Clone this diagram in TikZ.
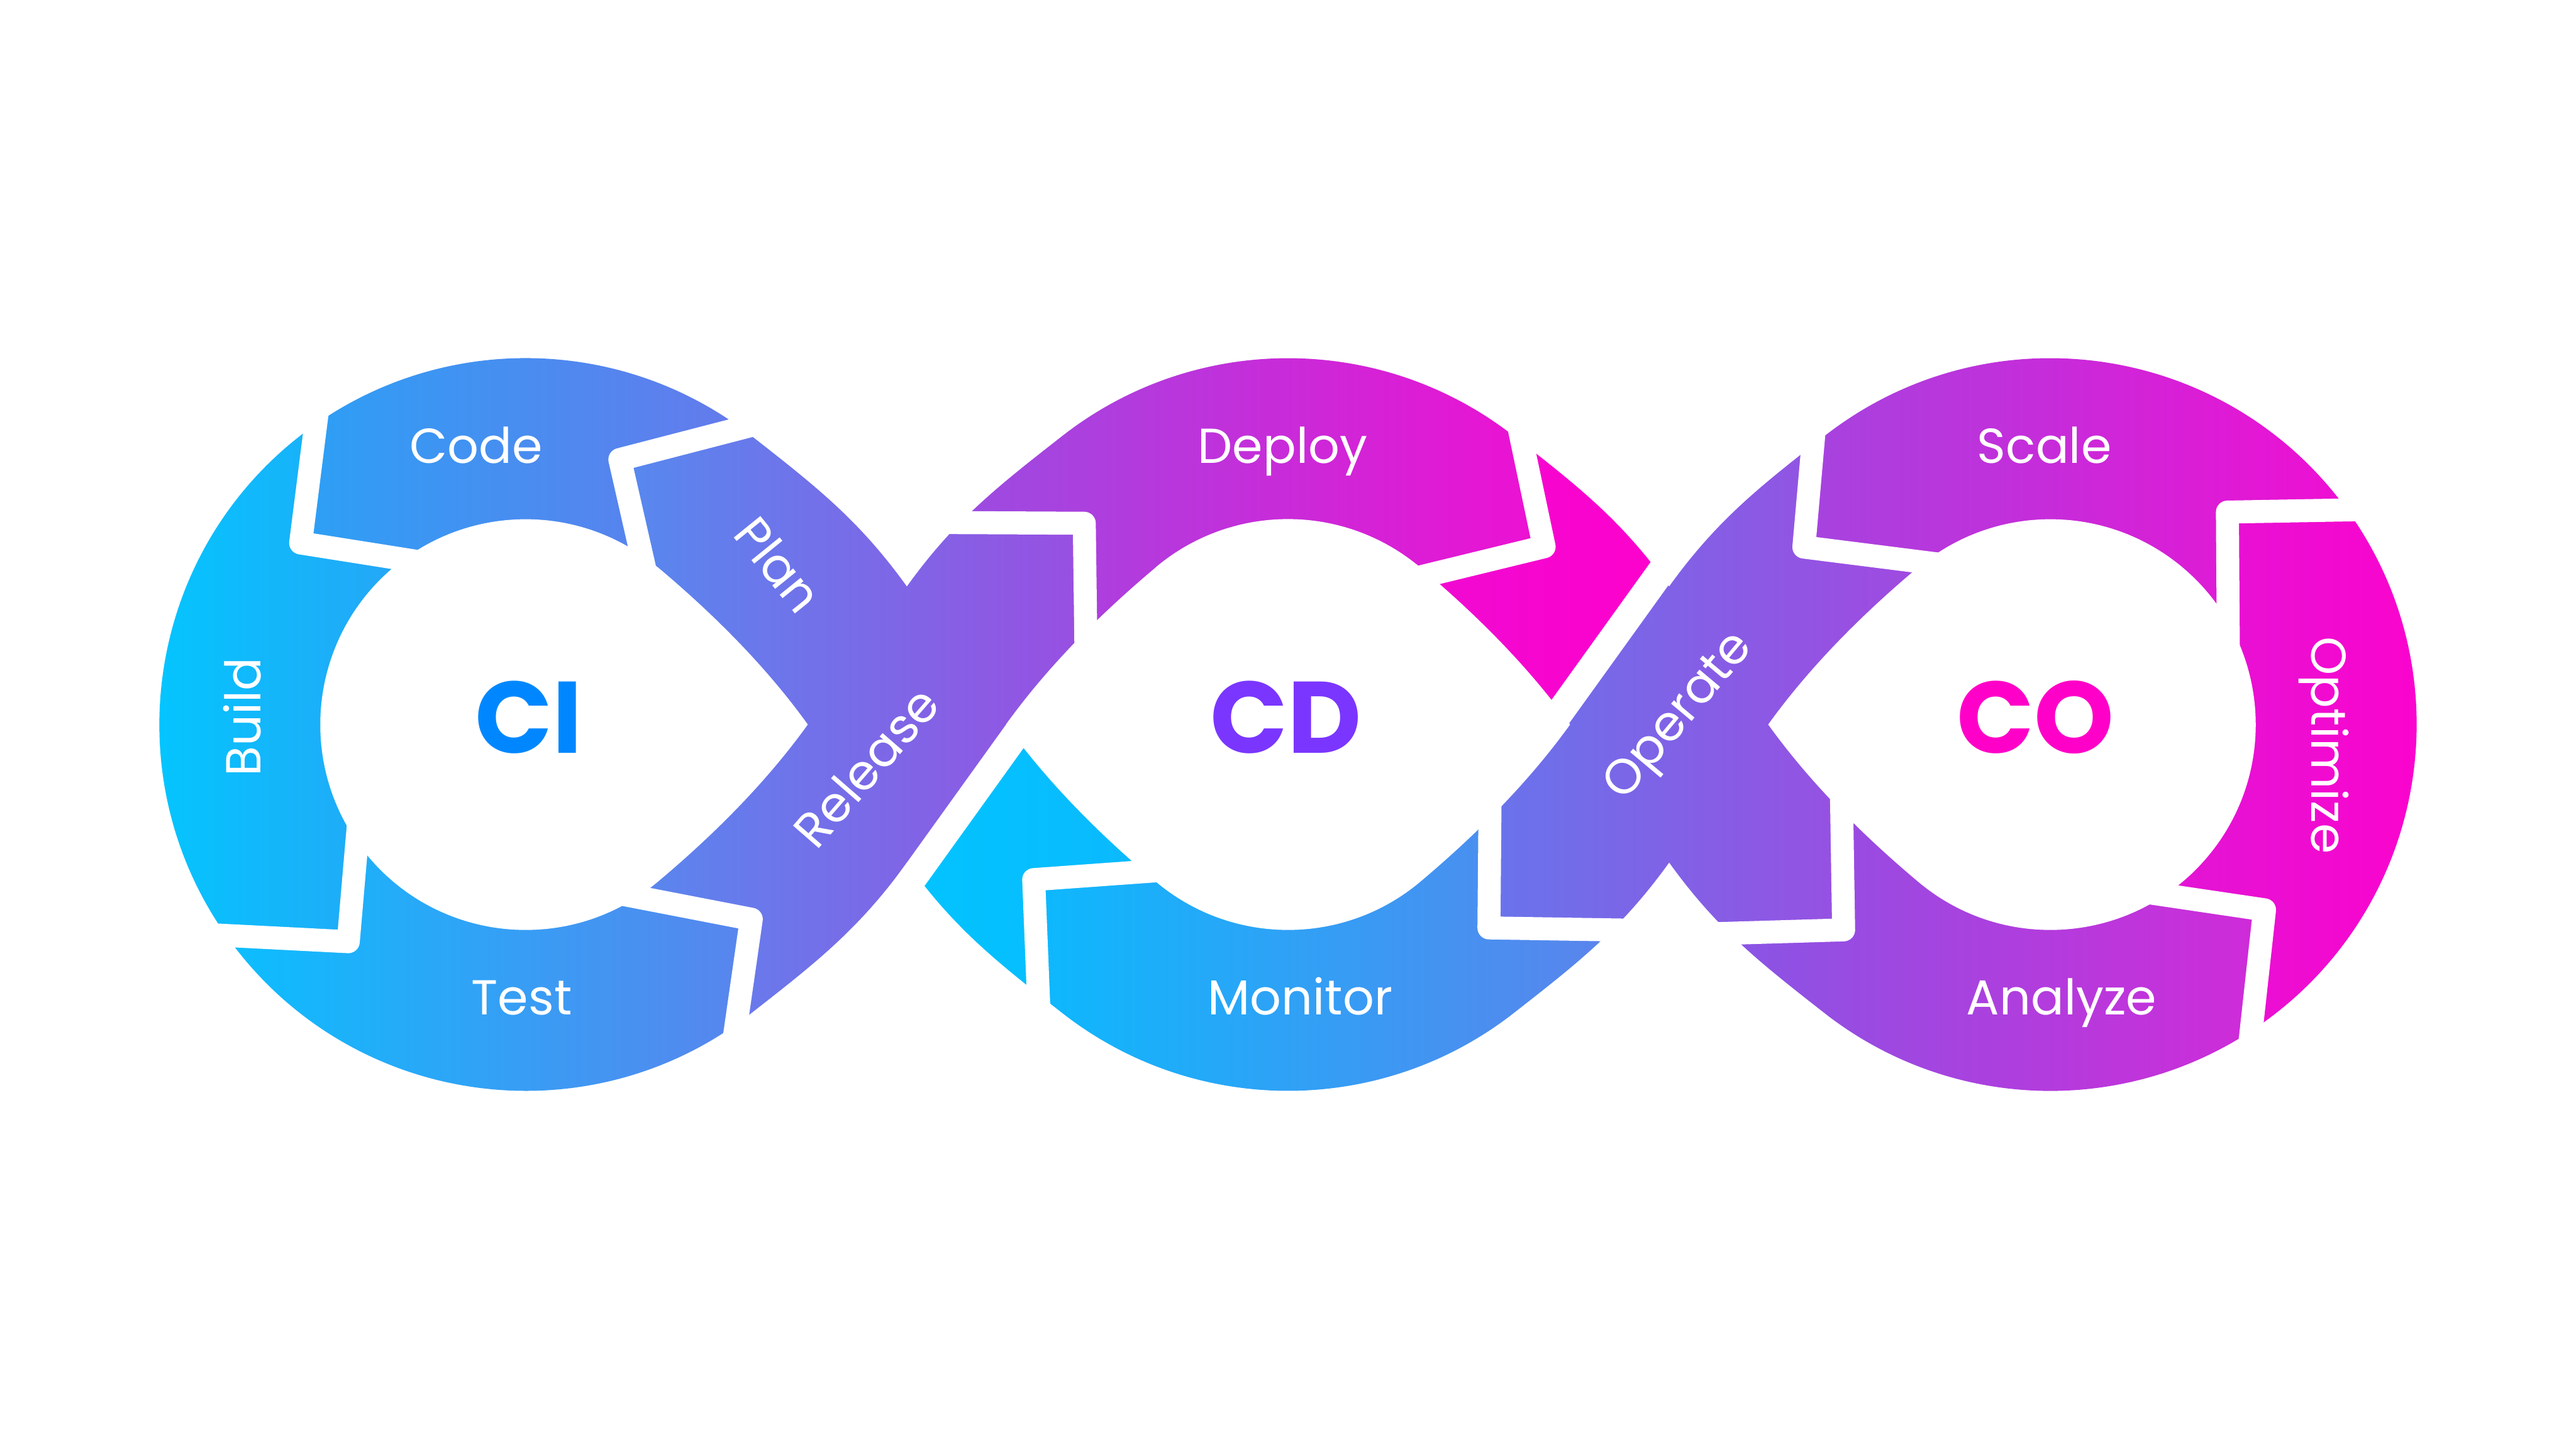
\documentclass[tikz,border=0pt]{standalone}
\usepackage{fontspec}
\setmainfont{Poppins}
\definecolor{bA}{HTML}{00C8FF}\definecolor{bB}{HTML}{2AA2F5}
\definecolor{cA}{HTML}{2CA0F5}\definecolor{cB}{HTML}{6E74EA}
\definecolor{tA}{HTML}{06C2FF}\definecolor{tB}{HTML}{5A84ED}
\definecolor{pA}{HTML}{548BEF}\definecolor{pB}{HTML}{9A4EE1}
\definecolor{dA}{HTML}{9550E2}\definecolor{dB}{HTML}{EE10D2}
\definecolor{mA}{HTML}{EE0BD2}\definecolor{mB}{HTML}{FF00CC}
\definecolor{oA}{HTML}{6874EB}\definecolor{oB}{HTML}{A546DF}
\definecolor{nA}{HTML}{0CB9FD}\definecolor{nB}{HTML}{6080EB}
\definecolor{lA}{HTML}{00C5FF}\definecolor{lB}{HTML}{0CB8FD}
\definecolor{sA}{HTML}{A544DF}\definecolor{sB}{HTML}{F40BD2}
\definecolor{zA}{HTML}{DE18D6}\definecolor{zB}{HTML}{FF00CC}
\definecolor{aA}{HTML}{8458E5}\definecolor{aB}{HTML}{D02AD8}
\definecolor{ciC}{HTML}{0087FF}
\definecolor{cdC}{HTML}{7A36FF}
\definecolor{coC}{HTML}{FF00C8}
\begin{document}
\begin{tikzpicture}[x=0.1mm,y=-0.1mm,
  gapline/.style={white, line width=1.4mm, line join=round},
  crossgap/.style={white, line width=1.7mm},
  lbl/.style={text=white, font=\fontsize{8.5}{8.5}\selectfont, inner sep=0pt, text height=5.95pt, text depth=0pt},
  big/.style={font=\bfseries\fontsize{17.6}{17.6}\selectfont, inner sep=0pt, text height=12.4pt, text depth=0pt}]
\fill[white] (0,0) rectangle (1568,882);
\useasboundingbox (0,0) rectangle (1568,882);
\begin{scope}
\clip (552,357) .. controls (581.2,316.4) and (607.3,296.1) .. (646.7,265.3)
  arc[start angle=-128, end angle=-52, radius=223]
  .. controls (960.7,296.1) and (986.8,316.4) .. (1016,357)
  .. controls (1045.2,316.4) and (1071.3,296.1) .. (1110.7,265.3)
  arc[start angle=-128, end angle=128, radius=223]
  .. controls (1071.3,585.9) and (1045.2,565.6) .. (1016,525)
  .. controls (986.8,565.6) and (960.7,585.9) .. (921.3,616.7)
  arc[start angle=52, end angle=128, radius=223]
  .. controls (607.3,585.9) and (581.2,565.6) .. (552,525)
  .. controls (522.8,565.6) and (496.7,585.9) .. (457.3,616.7)
  arc[start angle=52, end angle=308, radius=223]
  .. controls (496.7,296.1) and (522.8,316.4) .. (552,357) -- cycle;
% Build
\shade[left color=bA, right color=bB] (195,236) -- (183,330.5) -- (262,343) -- (219,492) -- (212,573.2) -- (118,568.4) -- (80,568) -- (80,236) -- cycle;
% Code
\shade[left color=cA, right color=cB] (195,236) -- (183,330.5) -- (262,343) -- (394,353) -- (377.3,279.7) -- (490,250.5) -- (490,200) -- (195,200) -- cycle;
% Test
\shade[left color=tA, right color=tB] (118,568.4) -- (212,573.2) -- (219,492) -- (372,543) -- (457.3,559.5) -- (445,645) -- (445,680) -- (118,680) -- cycle;
% Plan + Release
\shade[left color=pA, right color=pB] (490,250.5) -- (377.3,279.7) -- (394,353) -- (372,543) -- (457.3,559.5) -- (445,645) -- (543.4,551.6) -- (621,443.6) -- (661,395) -- (660,318.5) -- (565,318) -- cycle;
% Deploy
\shade[left color=dA, right color=dB] (565,318) -- (660,318.5) -- (661,395) -- (855,353.5) -- (939.9,332.8) -- (922,248) -- (922,200) -- (565,200) -- cycle;
% magenta piece
\shade[left color=mA, right color=mB] (922,248) -- (939.9,332.8) -- (855,353.5) -- (946.3,437.95) -- (1024,329.9) -- (1000,248) -- cycle;
% Operate
\shade[left color=oA, right color=oB] (907,485) -- (906.3,564.8) -- (1000,566.3) -- (1035,568.6) -- (1122.2,566) -- (1120.8,478) -- (1185,344) -- (1098,333) -- (1105.5,248) -- (1024,248) -- (1024,329.9) -- (946.3,437.95) -- cycle;
% Monitor
\shade[left color=nA, right color=nB] (710,529.6) -- (629.2,535.4) -- (633,630) -- (633,680) -- (1000,680) -- (1000,566.3) -- (906.3,564.8) -- (907,485) -- cycle;
% tail
\shade[left color=lA, right color=lB] (543.4,551.6) -- (621,443.6) -- (710,529.6) -- (629.2,535.4) -- (633,630) -- (540,630) -- cycle;
% Scale
\shade[left color=sA, right color=sB] (1105.5,248) -- (1098,333) -- (1185,344) -- (1356.4,398) -- (1355.8,311.7) -- (1450,310) -- (1450,200) -- (1105.5,200) -- cycle;
% Optimize
\shade[left color=zA, right color=zB] (1450,310) -- (1355.8,311.7) -- (1356.4,398) -- (1300,542.2) -- (1378.4,553.8) -- (1368,648) -- (1500,648) -- (1500,310) -- cycle;
% Analyze
\shade[left color=aA, right color=aB] (1035,568.6) -- (1122.2,566) -- (1120.8,478) -- (1300,542.2) -- (1378.4,553.8) -- (1368,648) -- (1368,690) -- (1035,690) -- cycle;
\end{scope}
% holes
\fill[white] (400.3,345.2) .. controls (434,373.5) and (466,405.3) .. (491.7,441)
  .. controls (466,476.7) and (434,508.5) .. (400.3,536.8)
  arc[start angle=50, end angle=310, radius=125] -- cycle;
\fill[white] (703.7,345.2) .. controls (670,373.5) and (638,405.3) .. (612.3,441)
  .. controls (638,476.7) and (670,508.5) .. (703.7,536.8)
  arc[start angle=130, end angle=50, radius=125]
  .. controls (898,508.5) and (930,476.7) .. (955.7,441)
  .. controls (930,405.3) and (898,373.5) .. (864.3,345.2)
  arc[start angle=-50, end angle=-130, radius=125] -- cycle;
\fill[white] (1167.7,345.2) .. controls (1134,373.5) and (1102,405.3) .. (1076.3,441)
  .. controls (1102,476.7) and (1134,508.5) .. (1167.7,536.8)
  arc[start angle=130, end angle=-130, radius=125] -- cycle;
% gaps
\draw[gapline] (490,250.5) -- (377.3,279.7) -- (394,353);
\draw[gapline] (195,236) -- (183,330.5) -- (262,343);
\draw[gapline] (118,568.4) -- (212,573.2) -- (219,492);
\draw[gapline] (372,543) -- (457.3,559.5) -- (445,645);
\draw[gapline] (565,318) -- (660,318.5) -- (661,395);
\draw[gapline] (922,248) -- (939.9,332.8) -- (855,353.5);
\draw[gapline] (710,529.6) -- (629.2,535.4) -- (633,630);
\draw[gapline] (907,485) -- (906.3,564.8) -- (1000,566.3);
\draw[gapline] (1120.8,478) -- (1122.2,566) -- (1035,568.6);
\draw[gapline] (1300,542.2) -- (1378.4,553.8) -- (1368,648);
\draw[gapline] (1356.4,398) -- (1355.8,311.7) -- (1450,310);
\draw[gapline] (1105.5,248) -- (1098,333) -- (1185,344);
\draw[crossgap] (946.3,437.95) -- (1024,329.9);
\draw[crossgap] (543.4,551.6) -- (621,443.6);
% labels
\node[lbl] (code) at (289.9,271.5) {Code};
\node[lbl, rotate=90] (build) at (148.4,436.5) {Build};
\node[lbl] (test) at (317.6,607.2) {Test};
\node[lbl, rotate=-51] (plan) at (473.5,344) {Plan};
\node[lbl, rotate=49] (release) at (527.5,467) {Release};
\node[lbl] (deploy) at (780.7,271.5) {Deploy};
\node[lbl] (monitor) at (791.4,607.2) {Monitor};
\node[lbl, rotate=50] (operate) at (1020,434.5) {Operate};
\node[lbl] (scale) at (1244.4,271.5) {Scale};
\node[lbl, rotate=-90] (optimize) at (1417.6,453.7) {Optimize};
\node[lbl] (analyze) at (1254.8,607.2) {Analyze};
\node[big, text=ciC] (ci) at (322,436.5) {CI};
\node[big, text=cdC] (cd) at (782.6,436.5) {CD};
\node[big, text=coC] (co) at (1238.9,436.5) {CO};
\end{tikzpicture}
\end{document}
